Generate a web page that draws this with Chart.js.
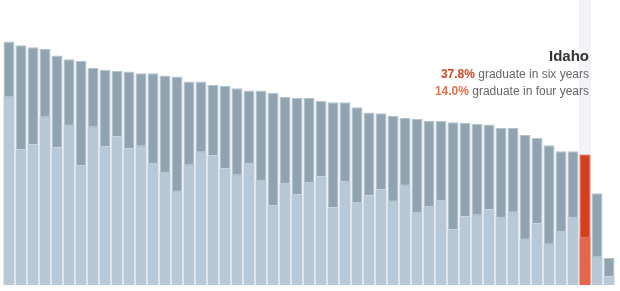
<!DOCTYPE html>
<html>
<head>
<meta charset="utf-8">
<script src="https://cdn.jsdelivr.net/npm/chart.js@4.4.0/dist/chart.umd.min.js"></script>
<style>
  body { margin: 0; background: #fff; font-family: "Liberation Sans", Arial, sans-serif; }
  #wrap { position: relative; width: 620px; height: 291px; }
  #note { position: absolute; right: 31px; top: 46px; text-align: right; color: #666; font-size: 12px; line-height: 17px; }
  #note .name { color: #333; font-weight: bold; font-size: 15px; line-height: 20px; }
  #note .six { color: #d4441f; font-weight: bold; }
  #note .four { color: #e8714c; font-weight: bold; }
</style>
</head>
<body>
<div id="wrap">
  <canvas id="chart"></canvas>
  <div id="note">
    <div class="name" id="note_name"></div>
    <div><span class="six" id="note_six"></span> graduate in six years</div>
    <div><span class="four" id="note_four"></span> graduate in four years</div>
  </div>
</div>
<script>
// six-year and four-year graduation rates, sorted by six-year rate
const six_year = [70.6, 69.5, 68.9, 68.4, 66.5, 65.4, 64.9, 62.9, 62.4, 62.1,
  61.9, 61.4, 61.4, 60.7, 60.4, 59.0, 59.0, 58.0, 57.7, 57.0,
  56.4, 56.4, 55.7, 54.5, 54.2, 54.2, 53.3, 53.0, 53.0, 51.5,
  50.0, 49.8, 49.0, 48.5, 48.1, 47.5, 47.5, 47.2, 47.0, 46.7,
  46.5, 45.5, 45.5, 43.5, 42.7, 40.5, 38.8, 38.8, 37.8, 26.6, 7.8];
const four_year = [54.7, 39.4, 40.9, 48.9, 40.0, 46.5, 34.8, 46.0, 40.3, 43.2,
  39.7, 40.5, 35.4, 32.8, 27.4, 35.0, 38.8, 37.7, 33.9, 32.1,
  35.4, 30.5, 23.2, 29.6, 26.4, 29.9, 31.6, 22.6, 30.2, 24.1,
  26.1, 27.8, 24.5, 29.1, 21.2, 23.0, 24.7, 16.2, 20.0, 20.5,
  22.0, 19.8, 21.4, 13.5, 18.0, 12.1, 15.7, 19.8, 14.0, 8.3, 2.6];
const highlight = "Idaho";
const highlight_idx = 48;
const labels = six_year.map((v, i) => i == highlight_idx ? highlight : "State " + (i + 1));

const sel = highlight_idx;
document.getElementById("note_name").textContent = highlight;
document.getElementById("note_six").textContent = six_year[sel].toFixed(1) + "%";
document.getElementById("note_four").textContent = four_year[sel].toFixed(1) + "%";

// light band behind the selected bar
const bandPlugin = {
  id: "band",
  beforeDatasetsDraw(chart) {
    const x = chart.scales.x;
    const ctx = chart.ctx;
    const cx = x.getPixelForValue(sel);
    const w = x.getPixelForValue(1) - x.getPixelForValue(0);
    ctx.save();
    ctx.fillStyle = "#f1f3f8";
    ctx.fillRect(cx - w / 2, 0, w, chart.chartArea.bottom);
    ctx.restore();
  }
};

new Chart(document.getElementById("chart"), {
  type: "bar",
  data: {
    labels: labels,
    datasets: [
      {
        label: "Four years",
        data: four_year,
        grouped: false,
        backgroundColor: labels.map((l, i) => i == sel ? "#e3674a" : "#b7c9d6"),
        borderColor: labels.map((l, i) => i == sel ? "#e98a72" : "#c5d4de"),
        borderWidth: { top: 1, left: 0, right: 0, bottom: 0 },
        barPercentage: 0.92,
        categoryPercentage: 1
      },
      {
        label: "Six years",
        data: six_year,
        grouped: false,
        backgroundColor: labels.map((l, i) => i == sel ? "#d63f1e" : "#8fa4b0"),
        borderColor: labels.map((l, i) => i == sel ? "#d63f1e" : "#b3c3cd"),
        borderWidth: 1,
        barPercentage: 0.92,
        categoryPercentage: 1
      }
    ]
  },
  options: {
    responsive: true,
    maintainAspectRatio: false,
    animation: false,
    layout: { padding: { top: 0, bottom: 6, left: 3, right: 5 } },
    plugins: { legend: { display: false }, tooltip: { enabled: false } },
    scales: {
      x: { display: false },
      y: { display: false, min: 0, max: 82.6 }
    }
  },
  plugins: [bandPlugin]
});
</script>
</body>
</html>
